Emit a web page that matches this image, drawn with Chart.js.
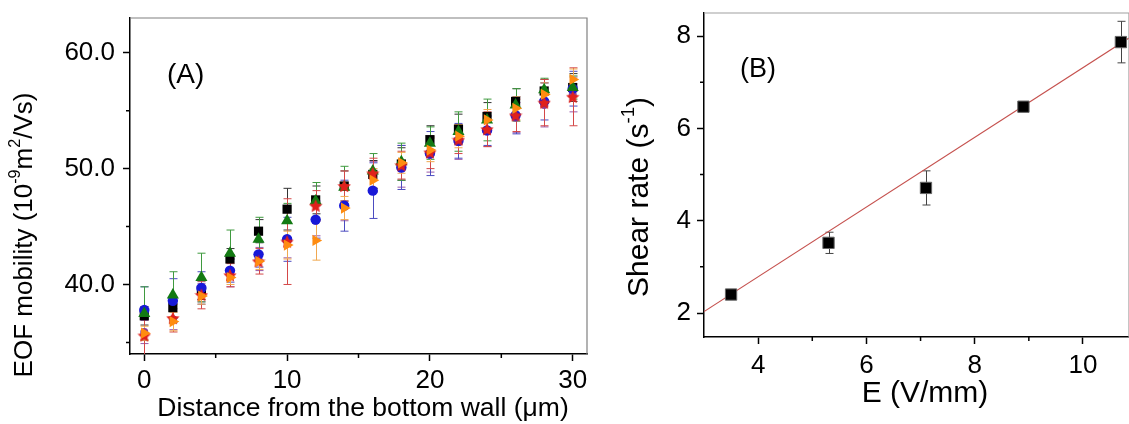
<!DOCTYPE html>
<html>
<head>
<meta charset="utf-8">
<script src="https://cdn.jsdelivr.net/npm/chart.js@4"></script>
<style>
  html, body { margin: 0; padding: 0; background: #fff; overflow: hidden; }
  #wrapA { position: absolute; left: 0; top: 0; }
  #wrapB { position: absolute; left: 615px; top: 0; }
</style>
</head>
<body>
<div id="wrapA"><canvas id="chartA" width="600" height="424"></canvas></div>
<div id="wrapB"><canvas id="chartB" width="523" height="424"></canvas></div>
<script>
// panel A: EOF mobility vs distance from the bottom wall
const distance = [0, 2, 4, 6, 8, 10, 12, 14, 16, 18, 20, 22, 24, 26, 28, 30];
const mobBlack  = [37.3, 38.0, 39.5, 42.2, 44.6, 46.5, 47.3, 48.5, 49.5, 50.4, 52.5, 53.4, 54.5, 55.8, 56.7, 57.0];
const errBlack  = [0.8, 0.9, 0.8, 0.9, 1.0, 1.8, 1.2, 1.3, 1.2, 1.4, 1.2, 1.3, 1.2, 1.1, 1.0, 1.2];
const mobBlue   = [37.8, 38.6, 39.7, 41.2, 42.6, 43.9, 45.6, 46.8, 48.1, 50.1, 51.3, 52.4, 53.3, 54.6, 55.8, 56.9];
const errBlue   = [2.0, 1.9, 1.4, 1.0, 1.1, 1.9, 1.6, 2.2, 2.4, 1.9, 1.9, 1.5, 1.3, 1.6, 1.6, 1.5];
const mobGreen  = [37.5, 39.1, 40.6, 42.7, 43.9, 45.5, 47.2, 48.4, 49.8, 50.6, 52.2, 53.2, 54.2, 55.5, 56.8, 57.0];
const errGreen  = [2.3, 2.0, 2.1, 2.0, 1.9, 1.5, 1.6, 1.8, 1.5, 1.6, 1.4, 1.7, 1.8, 1.4, 1.0, 1.0];
const mobPurple = [35.9, 37.0, 39.3, 41.0, 42.2, 43.8, 45.5, 46.9, 49.3, 50.2, 51.2, 52.3, 53.2, 54.4, 55.5, 56.4];
const errPurple = [1.0, 0.9, 0.8, 1.2, 1.0, 1.5, 1.3, 1.4, 1.3, 1.8, 1.5, 1.5, 1.3, 1.3, 1.9, 1.5];
const mobRed    = [35.6, 37.1, 39.1, 40.8, 42.0, 43.7, 46.8, 48.5, 49.6, 50.3, 51.4, 52.5, 53.4, 54.6, 55.7, 56.2];
const errRed    = [1.8, 1.2, 1.2, 1.0, 1.1, 3.7, 1.3, 1.3, 1.3, 1.2, 1.4, 1.2, 1.5, 1.4, 2.0, 2.5];
const mobOrange = [35.8, 36.8, 39.0, 40.6, 42.0, 43.4, 43.8, 46.6, 49.0, 50.5, 51.6, 52.8, 54.2, 55.2, 56.4, 57.7];
const errOrange = [0.6, 0.8, 0.7, 0.6, 0.7, 1.2, 1.7, 1.0, 1.0, 0.9, 1.0, 1.0, 0.9, 1.0, 1.0, 0.9];
const ticksAX = [0, 10, 20, 30];
const minorAX = [5, 15, 25];
const ticksAY = [40, 50, 60];
const minorAY = [35, 45, 55];

// panel B: shear rate vs field
const field = [3.5, 5.3, 7.1, 8.9, 10.7];
const shear = [2.40, 3.52, 4.71, 6.47, 7.87];
const shearErr = [0.07, 0.23, 0.37, 0.05, 0.45];
const fitField = [3.0, 10.85];
const fitShear = [2.03, 7.96];
const ticksBX = [4, 6, 8, 10];
const minorBX = [5, 7, 9];
const ticksBY = [2, 4, 6, 8];
const minorBY = [3, 5, 7];

const FONT = '"Liberation Sans", Arial, sans-serif';
const pts = (xs, ys) => xs.map((v, i) => ({x: v, y: ys[i]}));

function starImage(size, color) {
  const c = document.createElement('canvas');
  c.width = size; c.height = size;
  const g = c.getContext('2d');
  const r = size / 2, ri = r * 0.48;
  g.beginPath();
  for (let i = 0; i < 10; i++) {
    const a = -Math.PI / 2 + i * Math.PI / 5;
    const rr = i % 2 ? ri : r;
    g.lineTo(r + rr * Math.cos(a), r + 0.6 + rr * Math.sin(a));
  }
  g.closePath();
  g.fillStyle = color;
  g.fill();
  return c;
}

const errorBars = {
  id: 'errorBars',
  beforeDatasetsDraw(chart) {
    const {ctx, chartArea: a, scales: {x, y}} = chart;
    ctx.save();
    ctx.beginPath();
    ctx.rect(a.left, a.top, a.right - a.left, a.bottom - a.top);
    ctx.clip();
    chart.data.datasets.slice().reverse().forEach(ds => {
      if (!ds.errors) return;
      ctx.strokeStyle = ds.errorColor;
      ctx.lineWidth = 1;
      const cap = ds.capWidth || 4;
      ds.data.forEach((p, j) => {
        const e = ds.errors[j];
        const px = Math.round(x.getPixelForValue(p.x)) + 0.5;
        const t = y.getPixelForValue(p.y + e), b = y.getPixelForValue(p.y - e);
        ctx.beginPath();
        ctx.moveTo(px, t); ctx.lineTo(px, b);
        ctx.moveTo(px - cap, t); ctx.lineTo(px + cap, t);
        ctx.moveTo(px - cap, b); ctx.lineTo(px + cap, b);
        ctx.stroke();
      });
    });
    ctx.restore();
  }
};

// frame on top/right, minor ticks, titles
const decor = {
  id: 'decor',
  afterDraw(chart, args, o) {
    const {ctx, chartArea: a, scales: {x, y}} = chart;
    ctx.save();
    ctx.strokeStyle = o.frameColor;
    ctx.lineWidth = 1.2;
    ctx.beginPath();
    ctx.moveTo(a.left, a.top); ctx.lineTo(a.right, a.top); ctx.lineTo(a.right, a.bottom);
    ctx.stroke();
    ctx.strokeStyle = '#000';
    ctx.lineWidth = 1.5;
    ctx.beginPath();
    o.minorX.forEach(v => {
      const px = x.getPixelForValue(v);
      ctx.moveTo(px, a.bottom); ctx.lineTo(px, a.bottom + 4);
    });
    o.minorY.forEach(v => {
      const py = y.getPixelForValue(v);
      ctx.moveTo(a.left, py); ctx.lineTo(a.left - 4, py);
    });
    ctx.stroke();
    ctx.fillStyle = '#000';
    o.texts.forEach(t => drawRich(ctx, t.parts, t.x, t.y, t.rot || 0, t.size, t.align || 'center'));
    ctx.restore();
  }
};

function drawRich(ctx, parts, cx, cy, rot, size, align) {
  ctx.save();
  ctx.translate(cx, cy);
  ctx.rotate(rot);
  ctx.textBaseline = 'middle';
  ctx.textAlign = 'left';
  const widths = parts.map(p => {
    ctx.font = (p[1] ? size * 0.62 : size) + 'px ' + FONT;
    return ctx.measureText(p[0]).width;
  });
  const total = widths.reduce((s, w) => s + w, 0);
  let xx = align === 'left' ? 0 : -total / 2;
  parts.forEach((p, i) => {
    ctx.font = (p[1] ? size * 0.62 : size) + 'px ' + FONT;
    ctx.fillText(p[0], xx, p[1] ? -size * 0.38 : 0);
    xx += widths[i];
  });
  ctx.restore();
}

function axis(min, max, tickVals, fmt, size, fitKey, fitVal, pad) {
  return {
    type: 'linear', min: min, max: max,
    afterBuildTicks: s => { s.ticks = tickVals.map(v => ({value: v})); },
    afterFit: s => {
      s[fitKey] = fitVal;
      s.paddingTop = 0; s.paddingBottom = 0; s.paddingLeft = 0; s.paddingRight = 0;
    },
    grid: {drawOnChartArea: false, tickLength: 7, tickColor: '#000', tickWidth: 1.5},
    border: {color: '#000', width: 1.5},
    ticks: {color: '#000', font: {size: size, family: FONT}, padding: pad, maxRotation: 0,
            callback: v => fmt(v)}
  };
}

const star = starImage(14, '#e0201c');

// Chart.js paints dataset 0 on top, so the list runs top to bottom
new Chart(document.getElementById('chartA'), {
  type: 'scatter',
  data: {
    datasets: [
      {data: pts(distance, mobOrange), errors: errOrange, errorColor: '#f0a850',
       pointStyle: 'triangle', pointRotation: 90, pointRadius: 6.5, backgroundColor: '#ff8c10', borderWidth: 0},
      {data: pts(distance, mobRed), errors: errRed, errorColor: '#d44848',
       pointStyle: star, pointRadius: 7, backgroundColor: '#e0201c', borderWidth: 0},
      {data: pts(distance, mobGreen), errors: errGreen, errorColor: '#3f9a3f',
       pointStyle: 'triangle', pointRadius: 7, backgroundColor: '#137a13', borderWidth: 0},
      {data: pts(distance, mobBlue), errors: errBlue, errorColor: '#4c4cc0',
       pointStyle: 'circle', pointRadius: 5.2, backgroundColor: '#1818d8', borderWidth: 0},
      {data: pts(distance, mobBlack), errors: errBlack, errorColor: '#333333',
       pointStyle: 'rect', pointRadius: 6.5, backgroundColor: '#000', borderWidth: 0},
      {data: pts(distance, mobPurple), errors: errPurple, errorColor: '#9a5aa8',
       pointStyle: 'circle', pointRadius: 4, backgroundColor: '#8b3f9a', borderWidth: 0}
    ]
  },
  options: {
    responsive: false, animation: false,
    layout: {padding: {top: 18, right: 13, left: 0, bottom: 0}},
    plugins: {
      legend: {display: false}, tooltip: {enabled: false},
      decor: {
        frameColor: '#808080', minorX: minorAX, minorY: minorAY,
        texts: [
          {parts: [['EOF mobility (10', 0], ['-9', 1], ['m', 0], ['2', 1], ['/Vs)', 0]], x: 25, y: 235, rot: -Math.PI / 2, size: 26},
          {parts: [['Distance from the bottom wall (\u03bcm)', 0]], x: 363, y: 409, size: 26.5},
          {parts: [['(A)', 0]], x: 167, y: 75, size: 28, align: 'left'}
        ]
      }
    },
    scales: {
      x: axis(-1, 31, ticksAX, v => String(v), 26, 'height', 70, 4),
      y: axis(34, 63, ticksAY, v => v.toFixed(1), 26, 'width', 130, 8)
    }
  },
  plugins: [errorBars, decor]
});

new Chart(document.getElementById('chartB'), {
  type: 'scatter',
  data: {
    datasets: [
      {data: pts(field, shear), errors: shearErr, errorColor: '#444', capWidth: 4,
       pointStyle: 'rect', pointRadius: 8, backgroundColor: '#000', borderColor: '#666', borderWidth: 1},
      {type: 'line', data: pts(fitField, fitShear), borderColor: '#c5514e', borderWidth: 1.2,
       pointRadius: 0, fill: false}
    ]
  },
  options: {
    responsive: false, animation: false,
    layout: {padding: {top: 13, right: 5, left: 0, bottom: 0}},
    plugins: {
      legend: {display: false}, tooltip: {enabled: false},
      decor: {
        frameColor: '#a0a0a0', minorX: minorBX, minorY: minorBY,
        texts: [
          {parts: [['Shear rate (s', 0], ['-1', 1], [')', 0]], x: 25, y: 197, rot: -Math.PI / 2, size: 30},
          {parts: [['E (V/mm)', 0]], x: 310, y: 394, size: 30},
          {parts: [['(B)', 0]], x: 125, y: 70, size: 27, align: 'left'}
        ]
      }
    },
    scales: {
      x: axis(3, 10.85, ticksBX, v => String(v), 26, 'height', 87, 6),
      y: axis(1.48, 8.5, ticksBY, v => String(v), 26, 'width', 89, 6)
    }
  },
  plugins: [errorBars, decor]
});
</script>
</body>
</html>
